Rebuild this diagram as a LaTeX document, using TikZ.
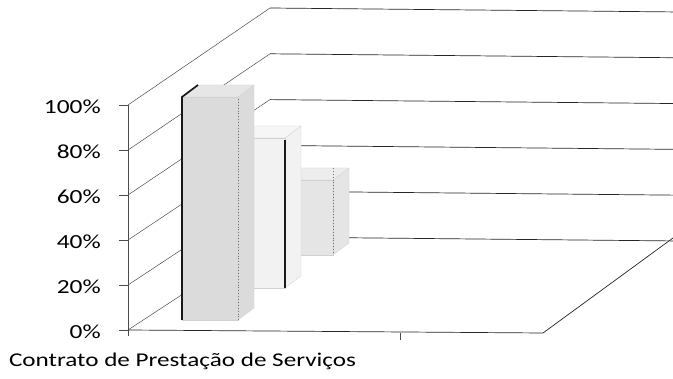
\documentclass[tikz,border=0pt]{standalone}
\usepackage{fontspec}
\setmainfont{Carlito}
\usetikzlibrary{positioning}
\tikzset{
    gridline/.style={line width=0.7pt, black!85},        % lines of the back wall and floor
    wallline/.style={line width=0.5pt, black!70},        % lines of the side wall and axis
    barface/.style={draw=black!18, line width=0.3pt},
    baredge/.style={line width=1.7pt, black!90},         % dark edge of a column
    dotedge/.style={line width=0.9pt, black!55, dotted},
    ticklabel/.style={font=\fontsize{20}{22}\selectfont, anchor=east, inner sep=0pt, xscale=1.27, transform shape},
    catlabel/.style={font=\fontsize{19.5}{22}\selectfont, anchor=base, inner sep=0pt, xscale=1.29, transform shape},
}
% a 3d column: left x, base y, top y (px, y down), grey tone
\newcommand{\colbar}[4]{%
  \filldraw[barface, fill=black!#4] ({#1+56},#2) -- ({#1+72},{#2-12}) -- ({#1+72},{#3-12}) -- ({#1+56},#3) -- cycle;
  \filldraw[barface, fill=black!#4] (#1,#2) rectangle ({#1+56},#3);
  \filldraw[barface, fill=black!#4!white!70] (#1,#3) -- ({#1+16},{#3-12}) -- ({#1+72},{#3-12}) -- ({#1+56},#3) -- cycle;
}

\begin{document}
\begin{tikzpicture}[x=1pt, y=-1pt]
\useasboundingbox (0,0) rectangle (673,379);

% walls and grid
\foreach \k/\lab in {0/0,1/20,2/40,3/60,4/80,5/100}{
  \coordinate (f\k) at (128,{330-45*\k});
  \coordinate (b\k) at (270,{237-45.8*\k});
  \draw[wallline] (f\k) -- (b\k);
  \draw[gridline] (b\k) -- ++(410,4);
  \draw[wallline] (f\k) -- ++(-9,0);
  \node[ticklabel] (t\k) at (101,{331.5-45*\k}) {\lab\%};
}
\draw[wallline] (128,336) -- (f5);

% floor
\coordinate (fr) at (543,333);
\draw[gridline] (f0) -- (fr) -- (673,238);
\draw[wallline] (400,333) -- (400,340);

% columns, back to front
\colbar{277}{255}{180}{10}
\draw[dotedge] (333,168) -- (333,253);
\colbar{229}{288}{138}{5}
\draw[baredge] (285,140) -- (285,288);
\colbar{182}{320}{97}{14}
\draw[dotedge] (238,99) -- (238,320);
\draw[baredge] (182,320) -- (182,97) -- (198,85);

% category
\node[catlabel] (cat) at (182.5,367) {Contrato de Prestação de Serviços};

\end{tikzpicture}
\end{document}
